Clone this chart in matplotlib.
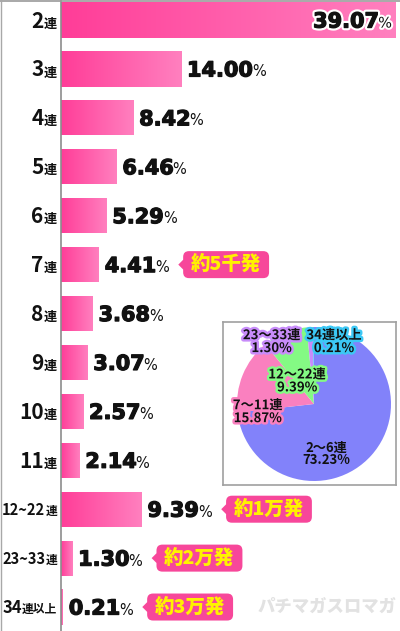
import matplotlib
matplotlib.use('Agg')
import matplotlib.pyplot as plt
import numpy as np
from matplotlib import font_manager as fm
from matplotlib.path import Path
from matplotlib.colors import LinearSegmentedColormap
import matplotlib.patheffects as pe

# ---------------- data ----------------
cat_numbers = ['2', '3', '4', '5', '6', '7', '8', '9', '10', '11', '12~22', '23~33', '34']
cat_suffixes = ['連'] * 12 + ['連以上']
values = [39.07, 14.00, 8.42, 6.46, 5.29, 4.41, 3.68, 3.07, 2.57, 2.14, 9.39, 1.30, 0.21]
callout_rows = [5, 10, 11, 12]
callout_texts = ['約5千発', '約1万発', '約2万発', '約3万発']

pie_labels = ['2～6連', '7～11連', '12～22連', '23～33連', '34連以上']
pie_values = [73.23, 15.87, 9.39, 1.30, 0.21]
watermark = 'パチマガスロマガ'

# ---------------- fonts ----------------
def has_font(name):
    try:
        fm.findfont(fm.FontProperties(family=name), fallback_to_default=False)
        return True
    except Exception:
        return False

CJK = 'Noto Sans CJK JP'
NARROW = 'Liberation Sans Narrow' if has_font('Liberation Sans Narrow') else CJK
plt.rcParams['font.family'] = [CJK, 'DejaVu Sans']

# ---------------- style ----------------
pie_colors = ['#8282fa', '#fa80bf', '#84fa84', '#c88cfa', '#3cc8f5']
pie_strokes = [None, '#fa80bf', '#84fa84', '#c88cfa', '#3cc8f5']
pie_text_pos = [(0.16, -0.65), (-0.73, -0.10), (-0.22, 0.30), (-0.55, 0.81), (0.26, 0.81)]
bar_cmap = LinearSegmentedColormap.from_list('pk', ['#ff3d98', '#ff80bf'])
callout_color = '#f7479a'
callout_text_color = '#fff200'

W, H = 400, 631
fig = plt.figure(figsize=(W / 100, H / 100), dpi=100)
fig.patch.set_facecolor('white')
ax = fig.add_axes([61 / W, 0, (W - 61) / W, 1])
ax.set_xlim(0, 39.55)
ylim = (12.49, -0.41)

y = np.arange(len(values))
bh = 0.72
bars = ax.barh(y, values, height=bh, color='none', edgecolor='none')
grad = np.linspace(0, 1, 256).reshape(1, -1)
for b, v, yi in zip(bars, values, y):
    im = ax.imshow(grad, extent=[0, v, yi + bh / 2, yi - bh / 2], cmap=bar_cmap,
                   aspect='auto', interpolation='bicubic', zorder=2)
    im.set_clip_path(b)
ax.set_xlim(0, 39.55)
ax.set_ylim(*ylim)
ax.set_aspect('auto')
ax.set_xticks([])
ax.set_yticks([])
for s in ['right', 'bottom', 'top']:
    ax.spines[s].set_visible(False)
ax.spines['left'].set_color('#8c8c8c')
ax.spines['left'].set_linewidth(1.2)
fig.add_artist(plt.Line2D([0, 1], [1 - 1.0 / H, 1 - 1.0 / H], color='#9a9a9a', lw=1.2,
                          transform=fig.transFigure))
fig.add_artist(plt.Line2D([0.8 / W, 0.8 / W], [0, 1], color='#a8a8a8', lw=1.0,
                          transform=fig.transFigure))

renderer = fig.canvas.get_renderer()

def width_px(t):
    return t.get_window_extent(renderer).width

# ---------------- y labels ----------------
for i, (num, suf) in enumerate(zip(cat_numbers, cat_suffixes)):
    big = len(num) <= 2 and suf == '連'
    if big:
        nsize, ssize, base = 15, 9.5, -7.5
    elif suf == '連':
        nsize, ssize, base = 10.5, 8.5, -6
    else:
        nsize, ssize, base = 12, 8.5, -6
    ts = ax.annotate(suf, xy=(0, i), xycoords='data', xytext=(-4, base),
                     textcoords='offset pixels', ha='right', va='baseline',
                     fontsize=ssize, fontweight='bold', family=CJK,
                     color='#111111', annotation_clip=False)
    ws = width_px(ts)
    ax.annotate(num, xy=(0, i), xycoords='data', xytext=(-4 - ws, base),
                textcoords='offset pixels', ha='right', va='baseline',
                fontsize=nsize, fontweight='bold', family=NARROW,
                color='#111111', annotation_clip=False)

# ---------------- callout box ----------------
def callout_box(x0, y0, width, height, mutation_size):
    padx = 0.4 * mutation_size
    pady = 0.2 * mutation_size
    x0 -= padx; y0 -= pady
    x1 = x0 + width + 2 * padx
    y1 = y0 + height + 2 * pady
    r = 0.3 * mutation_size
    ym = (y0 + y1) / 2
    d = 0.25 * mutation_size
    verts = [(x0 + r, y0), (x1 - r, y0), (x1, y0), (x1, y0 + r), (x1, y1 - r),
             (x1, y1), (x1 - r, y1), (x0 + r, y1), (x0, y1), (x0, y1 - r),
             (x0, ym + d), (x0 - d * 1.0, ym), (x0, ym - d), (x0, y0 + r),
             (x0, y0), (x0 + r, y0), (x0 + r, y0)]
    codes = [Path.MOVETO, Path.LINETO, Path.CURVE3, Path.CURVE3, Path.LINETO,
             Path.CURVE3, Path.CURVE3, Path.LINETO, Path.CURVE3, Path.CURVE3,
             Path.LINETO, Path.LINETO, Path.LINETO, Path.LINETO,
             Path.CURVE3, Path.CURVE3, Path.CLOSEPOLY]
    return Path(verts, codes)

# ---------------- value labels ----------------
heavy = [pe.withStroke(linewidth=0.9, foreground='#111111')]
vfont = dict(fontsize=15, fontweight='bold', family='DejaVu Sans', color='#111111')
pfont = dict(fontsize=10.5, family='DejaVu Sans', color='#111111')
for i, v in enumerate(values):
    label = f'{v:.2f}'
    if i == 0:
        stroke = [pe.Stroke(linewidth=4, foreground='white'),
                  pe.Stroke(linewidth=0.9, foreground='#111111'), pe.Normal()]
        tp = ax.annotate('%', xy=(v, i), xytext=(-4, -7.5), textcoords='offset pixels',
                         ha='right', va='baseline', zorder=5,
                         path_effects=[pe.withStroke(linewidth=3, foreground='white')], **pfont)
        wp = width_px(tp)
        ax.annotate(label, xy=(v, i), xytext=(-4 - wp + 1, -7.5), textcoords='offset pixels',
                    ha='right', va='baseline', path_effects=stroke, zorder=5, **vfont)
        continue
    tn = ax.annotate(label, xy=(v, i), xytext=(6, -7.5), textcoords='offset pixels',
                     ha='left', va='baseline', zorder=5, path_effects=heavy, **vfont)
    wn = width_px(tn)
    tp = ax.annotate('%', xy=(v, i), xytext=(6 + wn - 1, -7.5), textcoords='offset pixels',
                     ha='left', va='baseline', zorder=5, **pfont)
    if i in callout_rows:
        wp = width_px(tp)
        txt = callout_texts[callout_rows.index(i)]
        ax.annotate(txt, xy=(v, i), xytext=(6 + wn - 1 + wp + 22, 0),
                    textcoords='offset pixels', ha='left', va='center',
                    fontsize=14, fontweight='heavy', family=CJK,
                    color=callout_text_color, zorder=6,
                    bbox=dict(boxstyle=callout_box, facecolor=callout_color,
                              edgecolor='none'))

# ---------------- watermark ----------------
fig.text(327 / W, 1 - 607 / H, watermark, ha='center', va='center', fontsize=12.5,
         fontweight='heavy', family=CJK, color='#e2e2e2', zorder=0)

# ---------------- pie inset ----------------
pax = fig.add_axes([223 / W, 1 - 485 / H, 173 / W, 163 / H])
pax.pie(pie_values, colors=pie_colors, startangle=90, counterclock=False,
        radius=1, center=(0, 0), frame=True, wedgeprops=dict(linewidth=0))
pax.set_aspect('auto')
pax.set_xlim(-1.182, 1.065)
pax.set_ylim(-1.052, 1.065)
pax.set_xticks([])
pax.set_yticks([])
for s in pax.spines.values():
    s.set_color('#a0a0a0')
    s.set_linewidth(1.2)
for lab, val, (px, py), sc in zip(pie_labels, pie_values, pie_text_pos, pie_strokes):
    effects = [pe.withStroke(linewidth=3.5, foreground=sc)] if sc else None
    pax.text(px, py, f'{lab}\n{val:.2f}%', ha='center', va='center', fontsize=9.5,
             fontweight='bold', family=CJK, color='#111111', linespacing=0.9,
             path_effects=effects, zorder=5)

fig.savefig('out.png', dpi=100)
